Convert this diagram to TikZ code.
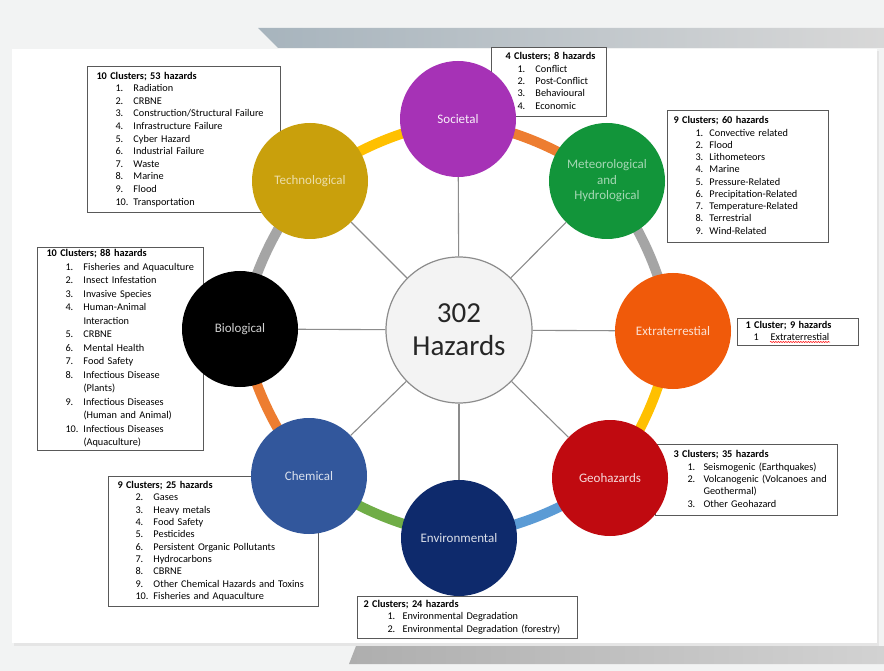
\documentclass[tikz,border=0pt]{standalone}
\usepackage{fontspec}
\setmainfont{Carlito}
\usetikzlibrary{decorations.pathmorphing}
\definecolor{cSoc}{HTML}{A632B6}
\definecolor{cMet}{HTML}{12953A}
\definecolor{cExt}{HTML}{F05A0A}
\definecolor{cGeo}{HTML}{C00A10}
\definecolor{cEnv}{HTML}{0E2A6C}
\definecolor{cChe}{HTML}{32579C}
\definecolor{cBio}{HTML}{000000}
\definecolor{cTec}{HTML}{C9A00C}
\definecolor{rOra}{HTML}{ED7D31}
\definecolor{rGry}{HTML}{A5A5A5}
\definecolor{rYel}{HTML}{FFC000}
\definecolor{rBlu}{HTML}{5B9BD5}
\definecolor{rGrn}{HTML}{70AD47}
\definecolor{bgc}{HTML}{F2F3F3}
\definecolor{bandL}{HTML}{A7B4BD}
\definecolor{bandR}{HTML}{D8D8D8}
\definecolor{botL}{HTML}{AEAEAE}
\definecolor{botR}{HTML}{D2D2D2}
\definecolor{spokec}{HTML}{8C8C8C}
\definecolor{ctrfill}{HTML}{F3F3F3}
\newcommand{\hzt}[2]{\multicolumn{2}{@{\hspace{#1}}l@{}}{\bfseries #2}}
\newcommand{\hztab}[4]{{\fontsize{10.3}{#3}\selectfont\begin{tabular}{@{\hspace{#1}}p{#2}@{}l@{}}#4\end{tabular}}}
\tikzset{
  hzbox/.style={draw=black!65, line width=1pt, fill=white, anchor=north west,
    inner xsep=6pt, inner ysep=0pt, align=left},
  band/.style={line width=10pt},
  circ/.style={circle, minimum size=116pt, inner sep=0pt, align=center,
    font=\fontsize{13}{15.5}\selectfont},
  spoke/.style={draw=spokec, line width=1.1pt}
}
\begin{document}
\begin{tikzpicture}[x=1pt,y=-1pt]
\useasboundingbox (0,0) rectangle (884,671);
% background
\fill[bgc] (0,0) rectangle (884,671);
\shade[left color=bandL, right color=bandR] (258,28) -- (884,28) -- (884,48) -- (278,48) -- cycle;
\fill[black!10] (14,51) rectangle (879,646);
\fill[white] (12,49) rectangle (877,643);
\shade[left color=botL, right color=botR] (356,646) -- (884,646) -- (884,664) -- (349,664) -- cycle;
% positions
\coordinate (pSoc) at (458,119);
\coordinate (pMet) at (607,181);
\coordinate (pExt) at (673,331);
\coordinate (pGeo) at (610,478);
\coordinate (pEnv) at (459,538);
\coordinate (pChe) at (309,476);
\coordinate (pBio) at (240,329);
\coordinate (pTec) at (310,181);
\coordinate (pCtr) at (459,330);
% boxes
\node[hzbox, text width=181pt, minimum height=146pt] (bTec) at (87,66) {\hztab{22pt}{18pt}{12.6pt}{%
\hzt{3pt}{10 Clusters; 53 hazards}\\
1. & Radiation\\
2. & CRBNE\\
3. & Construction/Structural Failure\\
4. & Infrastructure Failure\\
5. & Cyber Hazard\\
6. & Industrial Failure\\
7. & Waste\\
8. & Marine\\
9. & Flood\\
10. & Transportation}};
\node[hzbox, text width=103pt, minimum height=69pt] (bSoc) at (491,47) {\hztab{20pt}{18pt}{12.3pt}{%
\hzt{8pt}{4 Clusters; 8 hazards}\\
1. & Conflict\\
2. & Post-Conflict\\
3. & Behavioural\\
4. & Economic}};
\node[hzbox, text width=149pt, minimum height=132pt] (bMet) at (667,110) {\hztab{22pt}{14pt}{12.25pt}{%
\hzt{0pt}{9 Clusters; 60 hazards}\\
1. & Convective related\\
2. & Flood\\
3. & Lithometeors\\
4. & Marine\\
5. & Pressure-Related\\
6. & Precipitation-Related\\
7. & Temperature-Related\\
8. & Terrestrial\\
9. & Wind-Related}};
\node[hzbox, text width=154pt, minimum height=191pt] (bBio) at (37,247) {\hztab{22pt}{18pt}{13.5pt}{%
\hzt{3pt}{10 Clusters; 88 hazards}\\
1. & Fisheries and Aquaculture\\
2. & Insect Infestation\\
3. & Invasive Species\\
4. & Human-Animal\\
 & Interaction\\
5. & CRBNE\\
6. & Mental Health\\
7. & Food Safety\\
8. & Infectious Disease\\
 & (Plants)\\
9. & Infectious Diseases\\
 & (Human and Animal)\\
10. & Infectious Diseases\\
 & (Aquaculture)}};
\node[hzbox, text width=109pt, minimum height=27pt] (bExt) at (737,318) {\hztab{10pt}{17pt}{12.3pt}{%
\hzt{2pt}{1 Cluster; 9 hazards}\\
1 & Extraterrestial}};
\node[hzbox, text width=170pt, minimum height=71pt] (bGeo) at (655,444) {\hztab{26pt}{16pt}{12.3pt}{%
\hzt{12pt}{3 Clusters; 35 hazards}\\
1. & Seismogenic (Earthquakes)\\
2. & Volcanogenic (Volcanoes and\\
 & Geothermal)\\
3. & Other Geohazard}};
\node[hzbox, text width=198pt, minimum height=130pt] (bChe) at (108,476) {\hztab{21pt}{18pt}{12.3pt}{%
\hzt{3pt}{9 Clusters; 25 hazards}\\
2. & Gases\\
3. & Heavy metals\\
4. & Food Safety\\
5. & Pesticides\\
6. & Persistent Organic Pollutants\\
7. & Hydrocarbons\\
8. & CBRNE\\
9. & Other Chemical Hazards and Toxins\\
10. & Fisheries and Aquaculture}};
\node[hzbox, text width=208pt, minimum height=42pt] (bEnv) at (357,596) {\hztab{24pt}{15pt}{12.3pt}{%
\hzt{0pt}{2 Clusters; 24 hazards}\\
1. & Environmental Degradation\\
2. & Environmental Degradation (forestry)}};
\draw[red, line width=0.5pt, decorate, decoration={snake, amplitude=0.6pt, segment length=2.5pt}] (770,342) -- (830,342);
% ring bands
\draw[band, rOra] (pSoc) to[bend left=11] (pMet);
\draw[band, rGry] (pMet) to[bend left=11] (pExt);
\draw[band, rYel] (pExt) to[bend left=11] (pGeo);
\draw[band, rBlu] (pGeo) to[bend left=11] (pEnv);
\draw[band, rGrn] (pEnv) to[bend left=11] (pChe);
\draw[band, rOra] (pChe) to[bend left=11] (pBio);
\draw[band, rGry] (pBio) to[bend left=11] (pTec);
\draw[band, rYel] (pTec) to[bend left=11] (pSoc);
% circles
\node[circ, fill=cSoc, text=white!92!cSoc] (soc) at (pSoc) {Societal};
\node[circ, fill=cMet, text=white!62!cMet] (met) at (pMet) {Meteorological\\and\\Hydrological};
\node[circ, fill=cExt, text=white!82!cExt] (ext) at (pExt) {Extraterrestial};
\node[circ, fill=cGeo, text=white!85!cGeo] (geo) at (pGeo) {Geohazards};
\node[circ, fill=cEnv, text=white!85!cEnv] (env) at (pEnv) {Environmental};
\node[circ, fill=cChe, text=white!82!cChe] (che) at (pChe) {Chemical};
\node[circ, fill=cBio, text=white!82!cBio] (bio) at (pBio) {Biological};
\node[circ, fill=cTec, text=white!65!cTec] (tec) at (pTec) {Technological};
\node[circle, draw=black!45, line width=1.2pt, fill=ctrfill, minimum size=146pt, inner sep=0pt,
  align=center, text=black!85, font=\fontsize{29}{33}\selectfont] (ctr) at (pCtr) {302\\Hazards};
% spokes
\foreach \t in {soc,met,ext,geo,env,che,bio,tec} \draw[spoke] (ctr) -- (\t);
\end{tikzpicture}
\end{document}
